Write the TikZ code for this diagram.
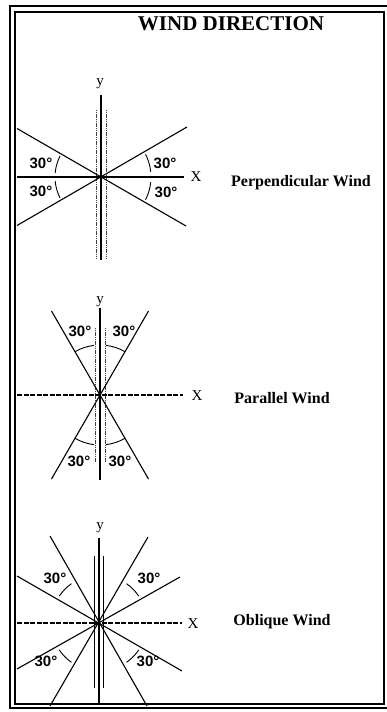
\documentclass[tikz,border=0pt]{standalone}
\usepackage{fontspec}
\setmainfont{Liberation Serif}
\newfontfamily\lblfont{Liberation Sans}
\usetikzlibrary{calc}
\tikzset{
  ax/.style={line width=1.1pt},
  dotln/.style={line width=0.9pt, dash pattern=on 1.2pt off 0.6pt, black!75},
  dashax/.style={line width=1.1pt, dash pattern=on 5pt off 1.5pt},
  angarc/.style={line width=0.9pt},
  deg/.style={font=\lblfont\bfseries\fontsize{15}{15}\selectfont, inner sep=0pt},
  axlbl/.style={font=\fontsize{15}{15}\selectfont, inner sep=0pt},
  wind/.style={font=\bfseries\fontsize{16}{16}\selectfont, inner sep=0pt},
  frameln/.style={line width=2pt}
}
\begin{document}
\begin{tikzpicture}[x=1pt,y=-1pt]
\useasboundingbox (0,0) rectangle (387,712);
% frame
\draw[frameln] (389,6) -- (10,6) -- (10,708) -- (389,708);
\draw[frameln] (384,12) -- (15,12) -- (15,704) -- (384,704) -- cycle;
\node[font=\bfseries\fontsize{21}{21}\selectfont, inner sep=0pt] (title) at (231,24) {WIND DIRECTION};

% ---------- Perpendicular ----------
\coordinate (c1) at (101,177);
\coordinate (y1t) at (101,95); \coordinate (y1b) at (101,260);
\coordinate (d1at) at (96.5,110); \coordinate (d1ab) at (96.5,258);
\coordinate (d1bt) at (106,110); \coordinate (d1bb) at (106,258);
\coordinate (x1l) at (17,177); \coordinate (x1r) at (184,177);
\coordinate (p1a) at (17,128.5); \coordinate (p1b) at (186,226);
\coordinate (p1c) at (17,225.5); \coordinate (p1d) at (187,127);
\draw[ax] (y1t) -- (y1b);
\draw[dotln] (d1at) -- (d1ab);
\draw[dotln] (d1bt) -- (d1bb);
\draw[ax] (x1l) -- (x1r);
\draw[ax] (p1a) -- (p1b);
\draw[ax] (p1c) -- (p1d);
\draw[angarc] ($(c1)+(-27:50)$) arc[start angle=-27, end angle=-6, radius=50];
\draw[angarc] ($(c1)+(6:50)$) arc[start angle=6, end angle=27, radius=50];
\draw[angarc] ($(c1)+(-153:46)$) arc[start angle=-153, end angle=-175, radius=46];
\draw[angarc] ($(c1)+(153:46)$) arc[start angle=153, end angle=175, radius=46];
\node[axlbl] (y1) at (100,84) {y};
\node[axlbl] (X1) at (196,177) {X};
\node[deg] (a1) at (41,163) {30°};
\node[deg] (a2) at (41,191) {30°};
\node[deg] (a3) at (165,163) {30°};
\node[deg] (a4) at (166,192) {30°};
\node[wind] (w1) at (301,183) {Perpendicular Wind};

% ---------- Parallel ----------
\coordinate (c2) at (100,395);
\coordinate (y2t) at (100,308); \coordinate (y2b) at (100,480);
\coordinate (d2at) at (95,328); \coordinate (d2ab) at (95,462);
\coordinate (d2bt) at (105,328); \coordinate (d2bb) at (105,462);
\coordinate (x2l) at (17,395); \coordinate (x2r) at (183,395);
\coordinate (p2a) at (51.5,311); \coordinate (p2b) at (148.5,479);
\coordinate (p2c) at (148.5,311); \coordinate (p2d) at (51.5,479);
\draw[ax] (y2t) -- (y2b);
\draw[dotln] (d2at) -- (d2ab);
\draw[dotln] (d2bt) -- (d2bb);
\draw[dashax] (x2l) -- (x2r);
\draw[ax] (p2a) -- (p2b);
\draw[ax] (p2c) -- (p2d);
\draw[angarc] ($(c2)+(-60:50)$) arc[start angle=-60, end angle=-83, radius=50];
\draw[angarc] ($(c2)+(-97:50)$) arc[start angle=-97, end angle=-120, radius=50];
\draw[angarc] ($(c2)+(60:50)$) arc[start angle=60, end angle=83, radius=50];
\draw[angarc] ($(c2)+(97:50)$) arc[start angle=97, end angle=120, radius=50];
\node[axlbl] (y2) at (100,302) {y};
\node[axlbl] (X2) at (197,396) {X};
\node[deg] (b1) at (80,331) {30°};
\node[deg] (b2) at (124,331) {30°};
\node[deg] (b3) at (79,461) {30°};
\node[deg] (b4) at (120,461) {30°};
\node[wind] (w2) at (282,398) {Parallel Wind};

% ---------- Oblique ----------
\coordinate (c3) at (99,623);
\coordinate (y3t) at (99,538); \coordinate (y3b) at (99,705);
\coordinate (d3at) at (94,556); \coordinate (d3ab) at (94,688);
\coordinate (d3bt) at (103,556); \coordinate (d3bb) at (103,688);
\coordinate (x3l) at (17,623); \coordinate (x3r) at (182,623);
\coordinate (q1a) at (180,577); \coordinate (q1b) at (17,669);
\coordinate (q2a) at (148,537); \coordinate (q2b) at (50,706);
\coordinate (q3a) at (17,576); \coordinate (q3b) at (182,671);
\coordinate (q4a) at (50,536); \coordinate (q4b) at (147,706);
\draw[ax] (y3t) -- (y3b);
\draw[line width=0.9pt] (d3at) -- (d3ab);
\draw[line width=0.9pt] (d3bt) -- (d3bb);
\draw[dashax] (x3l) -- (x3r);
\draw[ax] (q1a) -- (q1b);
\draw[ax] (q2a) -- (q2b);
\draw[ax] (q3a) -- (q3b);
\draw[ax] (q4a) -- (q4b);
\draw[angarc] ($(c3)+(-34:48)$) arc[start angle=-34, end angle=-55, radius=48];
\draw[angarc] ($(c3)+(-125:48)$) arc[start angle=-125, end angle=-146, radius=48];
\draw[angarc] ($(c3)+(146:48)$) arc[start angle=146, end angle=125, radius=48];
\draw[angarc] ($(c3)+(34:48)$) arc[start angle=34, end angle=55, radius=48];
\node[axlbl] (y3) at (100,528) {y};
\node[axlbl] (X3) at (193,624) {X};
\node[deg] (e1) at (55,578) {30°};
\node[deg] (e2) at (149,578) {30°};
\node[deg] (e3) at (46,661) {30°};
\node[deg] (e4) at (148,661) {30°};
\node[wind] (w3) at (282,622) {Oblique Wind};
\end{tikzpicture}
\end{document}
